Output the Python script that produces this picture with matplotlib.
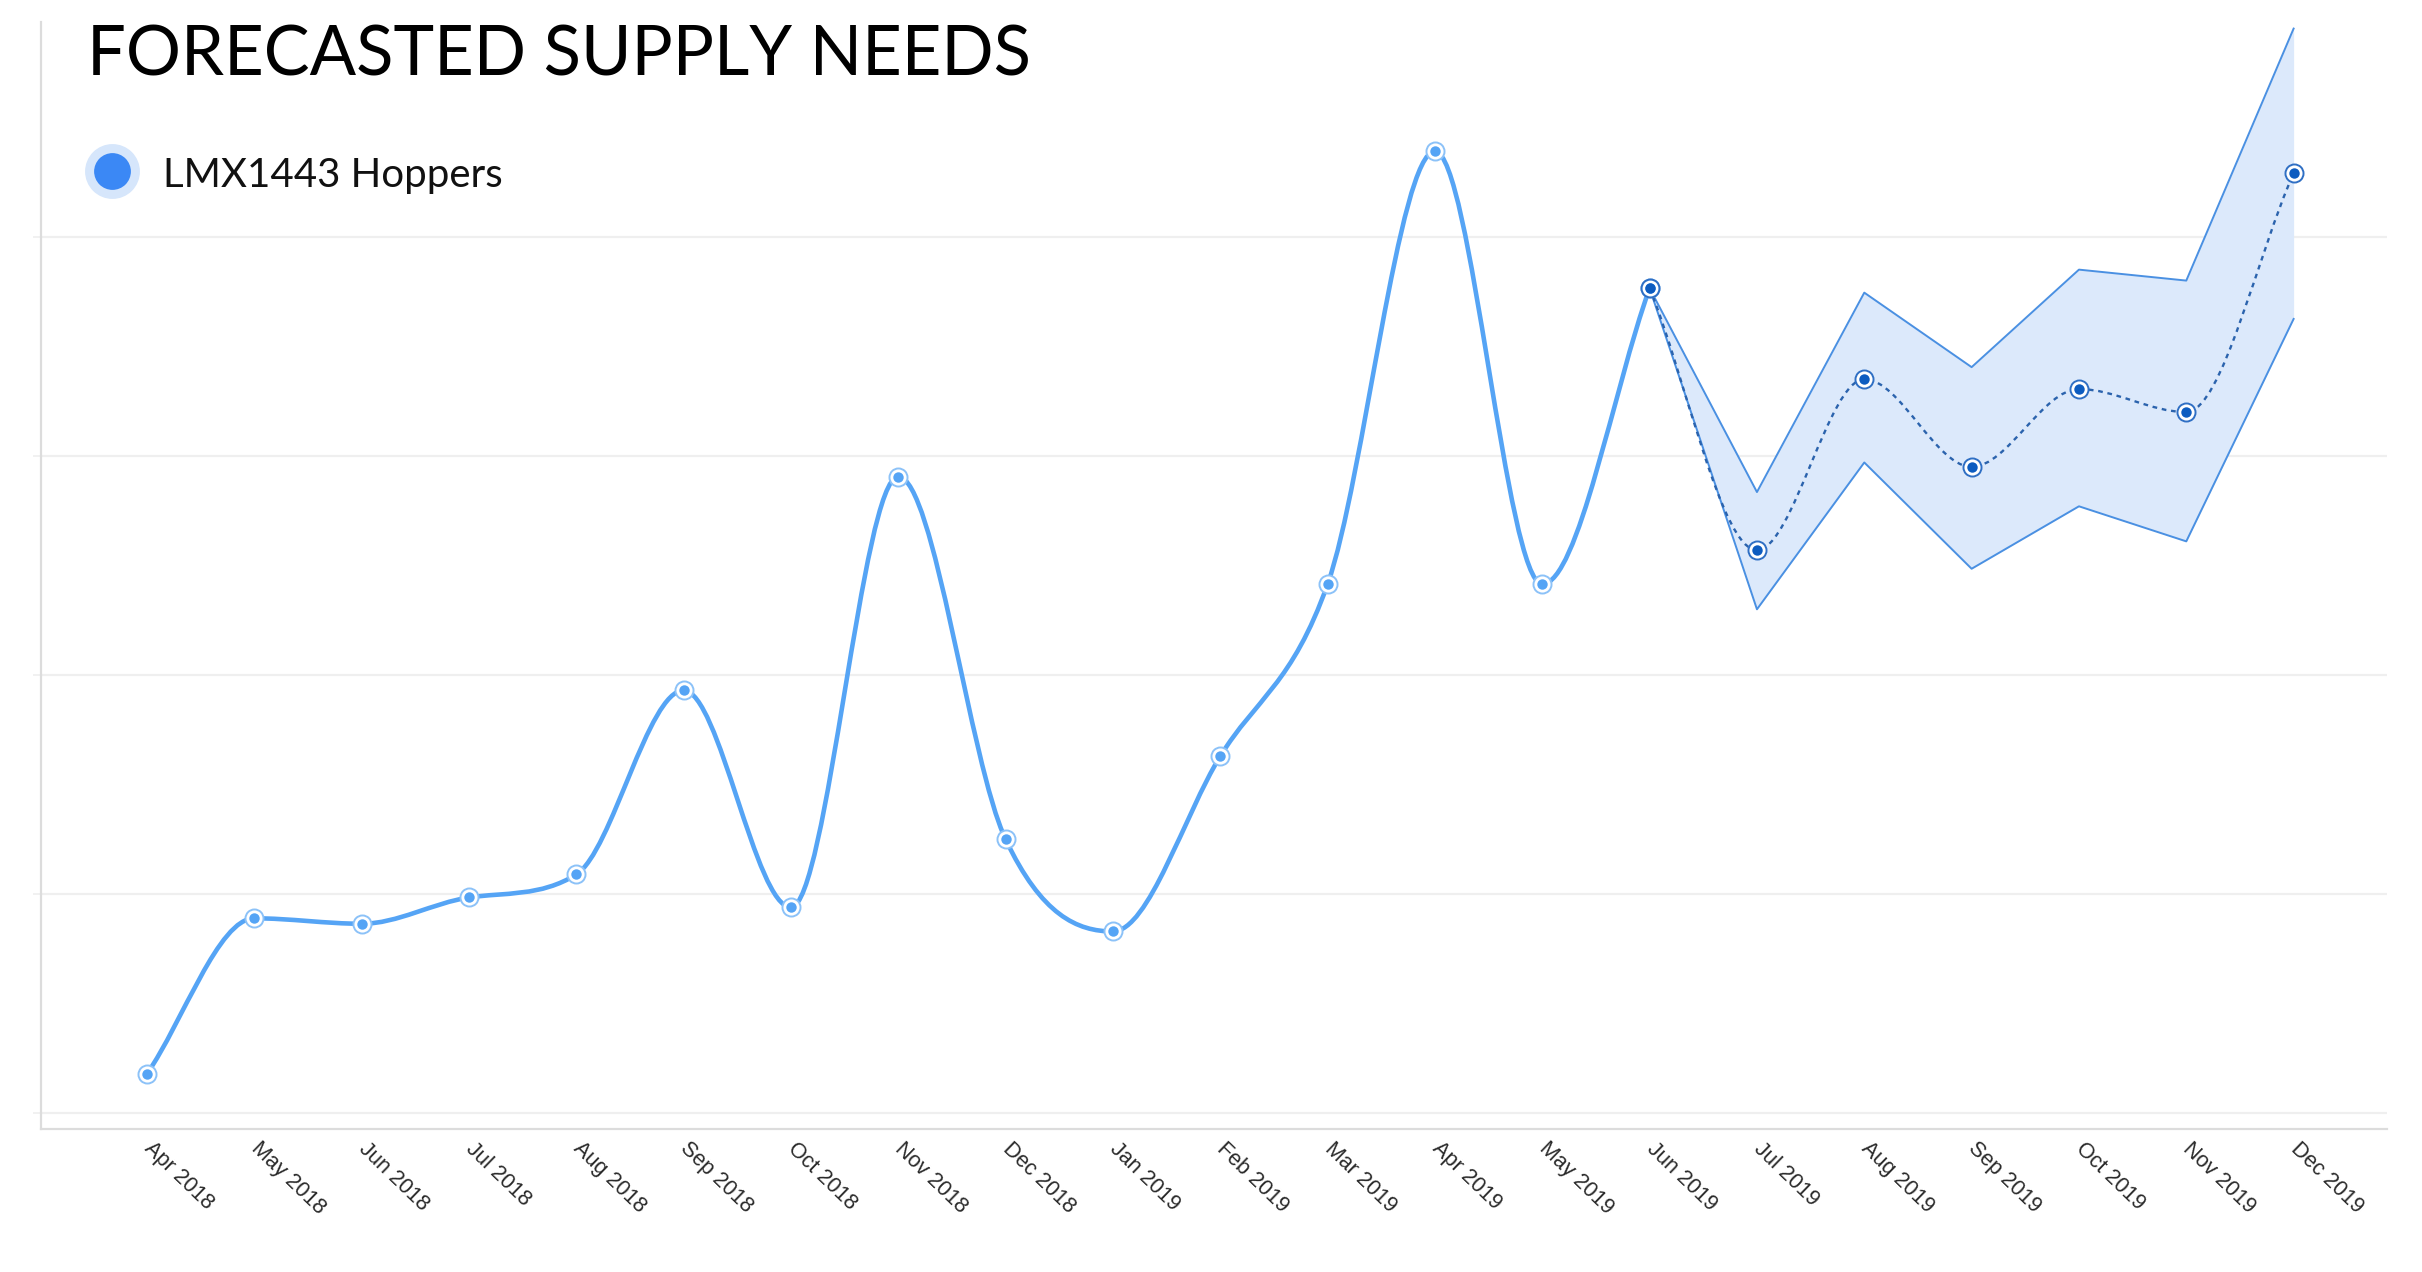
import numpy as np
import matplotlib
matplotlib.use("Agg")
import matplotlib.pyplot as plt
from matplotlib.path import Path
from matplotlib.patches import PathPatch
from matplotlib.lines import Line2D

# data
months = ["Apr 2018", "May 2018", "Jun 2018", "Jul 2018", "Aug 2018", "Sep 2018",
          "Oct 2018", "Nov 2018", "Dec 2018", "Jan 2019", "Feb 2019", "Mar 2019",
          "Apr 2019", "May 2019", "Jun 2019", "Jul 2019", "Aug 2019", "Sep 2019",
          "Oct 2019", "Nov 2019", "Dec 2019"]
actual = [3.6, 17.8, 17.3, 19.7, 21.8, 38.6, 18.8, 58.1, 25.0, 16.6, 32.6, 48.3,
          87.8, 48.3, 75.3]
forecast = [75.3, 51.4, 67.0, 59.0, 66.1, 64.0, 85.8]      # Jun 2019 .. Dec 2019
upper = [75.3, 56.7, 74.9, 68.1, 77.0, 76.0, 99.0]
lower = [75.3, 46.0, 59.4, 49.7, 55.4, 52.2, 72.5]
grid_vals = [0, 20, 40, 60, 80]

LINE = "#55a4f5"
DARK = "#0d5cc0"
BAND_EDGE = "#4a90e2"
BAND_FILL = "#dce9fb"

W, H = 2422, 1272
fig = plt.figure(figsize=(W / 100, H / 100), dpi=100)
ax = fig.add_axes([40.7 / W, 1 - 1129 / H, (2387 - 40.7) / W, (1129 - 22) / H])
ax.set_xlim(-0.99, 20.87)
ax.set_ylim(-1.43, 99.6)

x_act = np.arange(len(actual))
x_fc = np.arange(len(actual) - 1, len(months))


def monotone_path(xs, ys):
    # monotone cubic smoothing (same idea as chart.js "monotone" mode)
    xs = np.asarray(xs, float)
    ys = np.asarray(ys, float)
    n = len(xs)
    d = np.diff(ys) / np.diff(xs)
    m = np.zeros(n)
    m[0], m[-1] = d[0], d[-1]
    for i in range(1, n - 1):
        if np.sign(d[i - 1]) != np.sign(d[i]) or d[i - 1] == 0 or d[i] == 0:
            m[i] = 0
        else:
            m[i] = (d[i - 1] + d[i]) / 2
    for i in range(n - 1):
        if d[i] == 0:
            m[i] = m[i + 1] = 0
            continue
        a, b = m[i] / d[i], m[i + 1] / d[i]
        s = a * a + b * b
        if s > 9:
            t = 3 / np.sqrt(s)
            m[i] = a * t * d[i]
            m[i + 1] = b * t * d[i]
    verts = [(xs[0], ys[0])]
    codes = [Path.MOVETO]
    for i in range(n - 1):
        dx = (xs[i + 1] - xs[i]) / 3
        verts += [(xs[i] + dx, ys[i] + m[i] * dx),
                  (xs[i + 1] - dx, ys[i + 1] - m[i + 1] * dx),
                  (xs[i + 1], ys[i + 1])]
        codes += [Path.CURVE4] * 3
    return Path(verts, codes)


# grid and axes
for g in grid_vals:
    ax.axhline(g, color="#efefef", lw=1.6, zorder=0)
ax.set_yticks(grid_vals)
ax.tick_params(axis="y", length=6, color="#efefef", width=1.2, labelleft=False)
for s in ["top", "right"]:
    ax.spines[s].set_visible(False)
for s in ["left", "bottom"]:
    ax.spines[s].set_color("#dcdcdc")
    ax.spines[s].set_linewidth(1.6)

# forecast band
ax.fill_between(x_fc, lower, upper, color=BAND_FILL, lw=0, zorder=1)
ax.plot(x_fc, upper, color=BAND_EDGE, lw=1.4, zorder=2)
ax.plot(x_fc, lower, color=BAND_EDGE, lw=1.4, zorder=2)

# lines
ax.add_patch(PathPatch(monotone_path(x_act, actual), fill=False, ec=LINE, lw=3.3,
                       capstyle="round", joinstyle="round", zorder=3))
ax.add_patch(PathPatch(monotone_path(x_fc, forecast), fill=False, ec="#2b63ad", lw=1.7,
                       ls=(0, (2.0, 2.0)), zorder=3))

# markers
ax.plot(x_act, actual, ls="none", marker="o", ms=13, mfc="white", mec="#8cc2f8",
        mew=1.4, zorder=4)
ax.plot(x_act, actual, ls="none", marker="o", ms=7.5, mfc=LINE, mec="none", zorder=5)
ax.plot(x_fc[1:], forecast[1:], ls="none", marker="o", ms=13, mfc="white", mec="#2f6fc4",
        mew=1.4, zorder=4)
ax.plot(x_fc, forecast, ls="none", marker="o", ms=7.5, mfc=DARK, mec="none", zorder=5)
ax.plot([x_fc[0]], [forecast[0]], ls="none", marker="o", ms=13, mfc="none", mec="#2f6fc4",
        mew=1.4, zorder=4)

# x ticks
ax.set_xticks(np.arange(len(months)))
ax.set_xticklabels(months, fontsize=15.5, color="#2a2a2a", family="Liberation Sans")
ax.tick_params(axis="x", length=0, pad=12)
for lbl in ax.get_xticklabels():
    lbl.set_rotation(-44)
    lbl.set_ha("left")
    lbl.set_va("center")
    lbl.set_rotation_mode("anchor")

# title and legend
fig.text(87 / W, 1 - 76 / H, "FORECASTED SUPPLY NEEDS", fontsize=49.5, family="Lato",
         color="#000000", va="baseline", ha="left")
fig.add_artist(Line2D([111.5 / W], [1 - 171 / H], transform=fig.transFigure, marker="o",
                      ms=33, mfc="#3b88f5", mec="#d6e6fb", mew=6.5, ls="none"))
fig.text(163 / W, 1 - 187 / H, "LMX1443 Hoppers", fontsize=29, family="Lato",
         color="#111111", va="baseline", ha="left")

fig.savefig("out.png", dpi=100, facecolor="white")
